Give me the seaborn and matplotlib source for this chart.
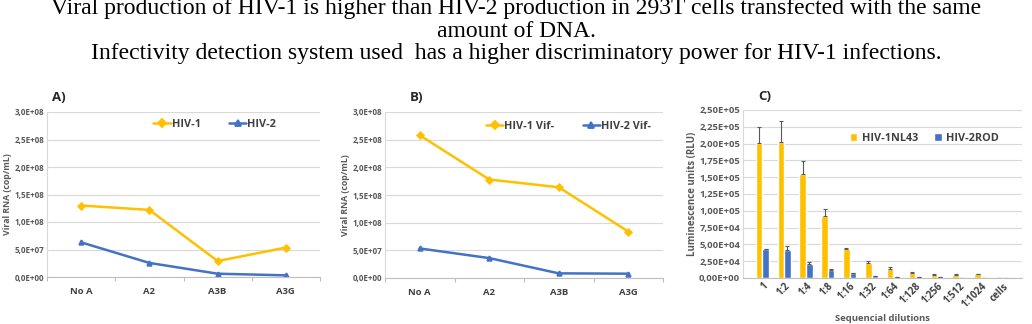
import numpy as np
import pandas as pd
import matplotlib
matplotlib.use('Agg')
import matplotlib.pyplot as plt
import seaborn as sns
from matplotlib.ticker import FuncFormatter, FixedLocator, MultipleLocator

# panel A / B: viral RNA (cop/mL) per APOBEC condition
conditions = ['No A', 'A2', 'A3B', 'A3G']
hiv1_wt = [1.30e8, 1.22e8, 0.29e8, 0.535e8]
hiv2_wt = [0.63e8, 0.256e8, 0.06e8, 0.03e8]
hiv1_vif = [2.58e8, 1.78e8, 1.64e8, 0.84e8]
hiv2_vif = [0.534e8, 0.36e8, 0.084e8, 0.078e8]

# panel C: luminescence (RLU) over serial dilutions
dilutions = ['1', '1:2', '1:4', '1:8', '1:16', '1:32', '1:64', '1:128',
             '1:256', '1:512', '1:1024', 'cells']
nl43_mean = [2.015e5, 2.03e5, 1.55e5, 0.93e5, 4.25e4, 2.25e4, 1.4e4, 0.8e4,
             0.45e4, 0.45e4, 0.55e4, 0.05e4]
nl43_err = [0.235e5, 0.30e5, 0.19e5, 0.09e5, 0.15e4, 0.35e4, 0.25e4, 0.15e4,
            0.1e4, 0.08e4, 0.05e4, 0.0]
rod_mean = [4.3e4, 4.15e4, 2.1e4, 1.15e4, 0.7e4, 0.25e4, 0.15e4, 0.1e4,
            0.1e4, 0.05e4, 0.0, 0.05e4]
rod_err = [0.05e4, 0.6e4, 0.25e4, 0.2e4, 0.1e4, 0.03e4, 0.02e4, 0.0,
           0.0, 0.0, 0.0, 0.0]

title_lines = [
    'Viral production of HIV-1 is higher than HIV-2 production in 293T cells transfected with the same',
    'amount of DNA.',
    'Infectivity detection system used  has a higher discriminatory power for HIV-1 infections.',
]

gold = '#FFC000'
blue = '#4472C4'
grey_txt = '#595959'
grid_c = '#d9d9d9'

sns.set_theme(style='white')
plt.rcParams['font.family'] = ['Open Sans', 'DejaVu Sans']

fig = plt.figure(figsize=(10.32, 3.24), dpi=100)
W, H = 1032, 324


def add_ax(x0, y0, x1, y1):
    return fig.add_axes([x0 / W, 1 - y1 / H, (x1 - x0) / W, (y1 - y0) / H])


def style_axis(ax, ysize):
    for s in ['top', 'right']:
        ax.spines[s].set_visible(False)
    ax.spines['left'].set_color(grid_c)
    ax.spines['bottom'].set_color('#bfbfbf')
    ax.spines['left'].set_linewidth(0.8)
    ax.spines['bottom'].set_linewidth(0.8)
    ax.yaxis.grid(True, color=grid_c, linewidth=0.8)
    ax.set_axisbelow(True)
    ax.tick_params(axis='y', length=0, pad=2, labelsize=ysize, labelcolor=grey_txt)
    for lab in ax.get_yticklabels():
        lab.set_fontweight('bold')


def line_panel(ax, s1, s2, names, letter, leg_xy):
    df = pd.DataFrame({
        'cond': conditions * 2,
        'rna': s1 + s2,
        'virus': [names[0]] * len(conditions) + [names[1]] * len(conditions),
    })
    sns.pointplot(data=df, x='cond', y='rna', hue='virus', order=conditions,
                  hue_order=names, palette=[gold, blue], markers=['D', '^'],
                  linestyles=['-', '-'], markersize=3.3, linewidth=1.8,
                  errorbar=None, ax=ax)
    ax.set_ylim(0, 3.0e8)
    ax.yaxis.set_major_locator(MultipleLocator(0.5e8))
    ax.yaxis.set_major_formatter(FuncFormatter(lambda v, p: f'{v:.1E}'.replace('.', ',')))
    style_axis(ax, 5.8)
    ax.xaxis.set_minor_locator(FixedLocator(np.arange(-0.5, len(conditions), 1)))
    ax.tick_params(axis='x', which='major', length=0, pad=7, labelsize=6.8,
                   labelcolor='#404040')
    ax.tick_params(axis='x', which='minor', length=3, width=0.8, color='#bfbfbf',
                   direction='out', bottom=True)
    for lab in ax.get_xticklabels():
        lab.set_fontweight('bold')
    ax.set_xlabel('')
    ax.set_ylabel('Viral RNA (cop/mL)', fontsize=6.3, fontweight='bold',
                  color=grey_txt, labelpad=2)
    h, l = ax.get_legend_handles_labels()
    leg = ax.legend(h, l, ncol=2, loc='center', bbox_to_anchor=leg_xy, frameon=False,
                    prop={'weight': 'bold', 'size': 7.8}, labelcolor='#404040',
                    handlelength=1.6, handletextpad=0.1, columnspacing=2.6)
    for hd in leg.legend_handles:
        hd.set_markersize(4.5)
        hd.set_linewidth(1.8)
    ax.text(0.02, 1.09, letter, transform=ax.transAxes, fontsize=9.5,
            fontweight='bold', color='#262626', ha='left', va='center')


# A
axA = add_ax(47, 112, 320, 277)
line_panel(axA, hiv1_wt, hiv2_wt, ['HIV-1', 'HIV-2'], 'A)', (0.615, 0.927))

# B
axB = add_ax(385, 112, 663, 278)
line_panel(axB, hiv1_vif, hiv2_vif, ['HIV-1 Vif-', 'HIV-2 Vif-'], 'B)', (0.66, 0.915))
axB.texts[0].set_x(0.09)

# C
axC = add_ax(743, 110, 1022, 278)
names_c = ['HIV-1NL43', 'HIV-2ROD']
dfc = pd.DataFrame({
    'dil': dilutions * 2,
    'rlu': nl43_mean + rod_mean,
    'virus': [names_c[0]] * len(dilutions) + [names_c[1]] * len(dilutions),
})
sns.barplot(data=dfc, x='dil', y='rlu', hue='virus', order=dilutions,
            hue_order=names_c, palette=[gold, blue], width=0.6, saturation=1,
            errorbar=None, ax=axC)
for cont, means, errs in zip(axC.containers, [nl43_mean, rod_mean], [nl43_err, rod_err]):
    xs = [p.get_x() + p.get_width() / 2 for p in cont]
    axC.errorbar(xs, means, yerr=[np.zeros(len(errs)), errs], fmt='none',
                 ecolor=grey_txt, elinewidth=0.8, capsize=1.5, capthick=0.8)
axC.set_ylim(0, 2.5e5)
axC.yaxis.set_major_locator(MultipleLocator(0.25e5))
axC.yaxis.set_major_formatter(FuncFormatter(lambda v, p: f'{v:.2E}'.replace('.', ',')))
style_axis(axC, 6.8)
axC.tick_params(axis='x', length=0, pad=2, labelsize=7, labelcolor='#404040')
for lab in axC.get_xticklabels():
    lab.set_fontweight('bold')
    lab.set_rotation(45)
    lab.set_ha('right')
    lab.set_rotation_mode('anchor')
axC.set_xlabel('Sequencial dilutions', fontsize=6.8, fontweight='bold',
               color=grey_txt, labelpad=3)
axC.set_ylabel('Luminescence units (RLU)', fontsize=7, fontweight='bold',
               color=grey_txt, labelpad=1)
h, l = axC.get_legend_handles_labels()
axC.legend(h, l, ncol=2, loc='center', bbox_to_anchor=(0.65, 0.83), frameon=False,
           prop={'weight': 'bold', 'size': 7.8}, labelcolor='#404040',
           handlelength=0.7, handleheight=0.7, handletextpad=0.4, columnspacing=1.5)
axC.text(0.055, 1.08, 'C)', transform=axC.transAxes, fontsize=9.5,
         fontweight='bold', color='#262626', ha='left', va='center')

# title lines (serif)
for txt, yb in zip(title_lines, [14, 37, 59]):
    fig.text(0.5, 1 - yb / H, txt, ha='center', va='baseline', fontsize=17,
             family=['Liberation Serif', 'DejaVu Serif'], color='black')

fig.savefig('out.png', dpi=100)
